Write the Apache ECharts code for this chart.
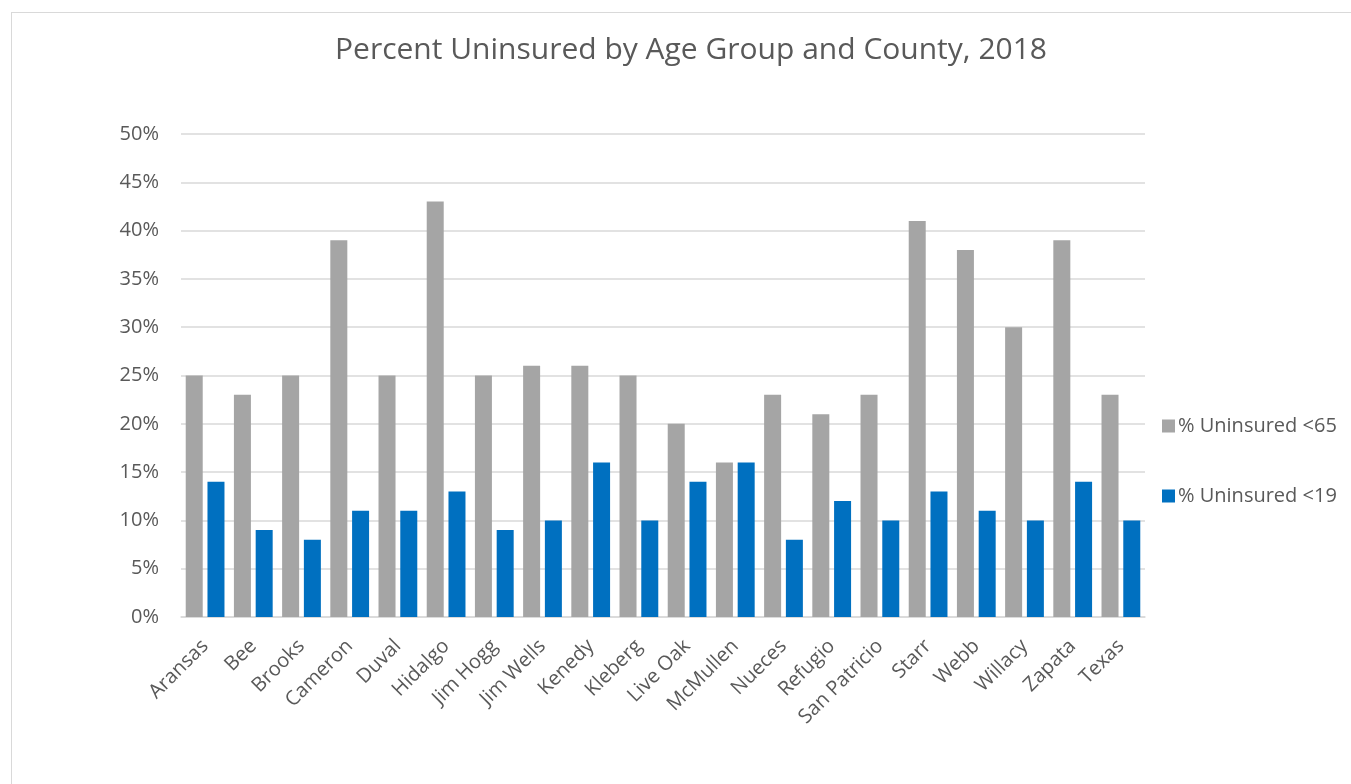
<!DOCTYPE html>
<html lang="en">
<head>
    <meta charset="UTF-8" />
    <title>Percent Uninsured</title>
    <script src="https://cdn.jsdelivr.net/npm/echarts@6.0.0/dist/echarts.min.js"></script>
    <style>
        html, body { margin: 0; padding: 0; background: #fff; }
        #frame { position: absolute; left: 11px; top: 12px; width: 1360px; height: 800px; border: 1px solid #d9d9d9; box-sizing: border-box; }
        #main { position: absolute; left: 0; top: 0; width: 1351px; height: 784px; }
    </style>
</head>
<body>
    <div id="frame"></div>
    <div id="main"></div>

    <script type="text/javascript">
        // counties along the x axis
        const counties = ["Aransas", "Bee", "Brooks", "Cameron", "Duval", "Hidalgo", "Jim Hogg", "Jim Wells",
            "Kenedy", "Kleberg", "Live Oak", "McMullen", "Nueces", "Refugio", "San Patricio", "Starr",
            "Webb", "Willacy", "Zapata", "Texas"];

        // percent uninsured
        const under65 = [25, 23, 25, 39, 25, 43, 25, 26, 26, 25, 20, 16, 23, 21, 23, 41, 38, 30, 39, 23];
        const under19 = [14, 9, 8, 11, 11, 13, 9, 10, 16, 10, 14, 16, 8, 12, 10, 13, 11, 10, 14, 10];

        const seriesNames = ["% Uninsured <65", "% Uninsured <19"];

        const font = "'Open Sans', 'Noto Sans', sans-serif";
        const textColor = "#595959";

        let myChart = echarts.init(document.getElementById("main"));

        let options = {
            animation: false,
            title: {
                text: "Percent Uninsured by Age Group and County, 2018",
                left: 686,
                top: 30,
                textAlign: "center",
                textStyle: { fontFamily: font, fontSize: 30, fontWeight: "normal", color: textColor }
            },
            legend: {
                orient: "vertical",
                left: 1157,
                top: 411,
                itemWidth: 13,
                itemHeight: 13,
                itemGap: 50,
                icon: "rect",
                textStyle: { fontFamily: font, fontSize: 20, color: textColor, padding: [0, 0, 0, -2] },
                data: seriesNames
            },
            grid: { left: 181, right: 206, top: 134, bottom: 167, containLabel: false },
            xAxis: {
                type: "category",
                data: counties,
                axisLine: { lineStyle: { color: "#d9d9d9", width: 1.5 } },
                axisTick: { show: false },
                axisLabel: { rotate: 45, fontFamily: font, fontSize: 20, color: textColor, margin: 26, interval: 0 }
            },
            yAxis: {
                type: "value",
                min: 0,
                max: 50,
                interval: 5,
                axisLine: { show: false },
                axisTick: { show: false },
                splitLine: { lineStyle: { color: "#d9d9d9", width: 1.5 } },
                axisLabel: { formatter: "{value}%", fontFamily: font, fontSize: 20, color: textColor, margin: 22 }
            },
            series: [
                {
                    name: seriesNames[0],
                    type: "bar",
                    data: under65,
                    barWidth: 17,
                    barGap: "28%",
                    itemStyle: { color: "#a5a5a5" }
                },
                {
                    name: seriesNames[1],
                    type: "bar",
                    data: under19,
                    barWidth: 17,
                    barGap: "28%",
                    itemStyle: { color: "#0070c0" }
                }
            ]
        };

        myChart.setOption(options);
    </script>
</body>
</html>
